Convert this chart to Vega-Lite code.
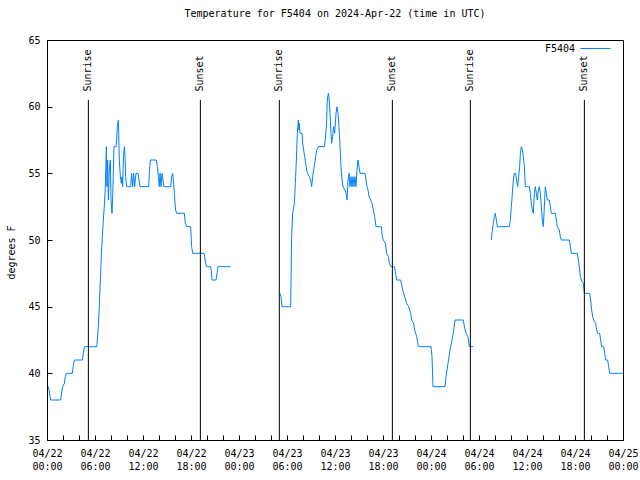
{
  "$schema": "https://vega.github.io/schema/vega-lite/v6.json",
  "width": 576,
  "height": 400,
  "autosize": {"type": "none"},
  "padding": {"left": 47, "top": 40, "right": 17, "bottom": 40},
  "background": "white",
  "config": {
    "font": "DejaVu Sans Mono",
    "view": {"stroke": "black", "strokeWidth": 1},
    "axis": {"grid": false, "domain": false, "labelFont": "DejaVu Sans Mono", "labelFontSize": 10, "labelColor": "black", "tickColor": "black", "titleFont": "DejaVu Sans Mono", "titleFontSize": 10, "titleFontWeight": "normal", "titleColor": "black"}
  },
  "title": {"text": "Temperature for F5404 on 2024-Apr-22 (time in UTC)", "font": "DejaVu Sans Mono", "fontSize": 10, "fontWeight": "normal", "color": "black", "offset": 14, "anchor": "middle"},
  "resolve": {"axis": {"x": "independent", "y": "independent"}},
  "layer": [
    {
      "data": {"values": [
        {"seg":1,"h":0.17,"t":39},{"seg":1,"h":0.29,"t":38.6},{"seg":1,"h":0.46,"t":38},{"seg":1,"h":1.71,"t":38},{"seg":1,"h":1.83,"t":38.6},{"seg":1,"h":1.96,"t":39},{"seg":1,"h":2.17,"t":39.25},{"seg":1,"h":2.29,"t":39.75},{"seg":1,"h":2.42,"t":40},{"seg":1,"h":3.17,"t":40},{"seg":1,"h":3.29,"t":40.6},{"seg":1,"h":3.42,"t":41},{"seg":1,"h":4.42,"t":41},{"seg":1,"h":4.54,"t":41.5},{"seg":1,"h":4.67,"t":42},{"seg":1,"h":6.21,"t":42},{"seg":1,"h":6.29,"t":42.5},{"seg":1,"h":6.42,"t":43.5},{"seg":1,"h":6.54,"t":45},{"seg":1,"h":6.67,"t":47},{"seg":1,"h":6.79,"t":48.8},{"seg":1,"h":6.92,"t":50.3},{"seg":1,"h":7.04,"t":51.5},{"seg":1,"h":7.17,"t":52.6},{"seg":1,"h":7.29,"t":54},{"seg":1,"h":7.375,"t":56},{"seg":1,"h":7.42,"t":57},{"seg":1,"h":7.5,"t":54},{"seg":1,"h":7.58,"t":56},{"seg":1,"h":7.67,"t":53},{"seg":1,"h":7.79,"t":55.25},{"seg":1,"h":7.92,"t":56},{"seg":1,"h":8.0,"t":53},{"seg":1,"h":8.125,"t":52},{"seg":1,"h":8.21,"t":53.25},{"seg":1,"h":8.29,"t":55},{"seg":1,"h":8.375,"t":57},{"seg":1,"h":8.625,"t":57},{"seg":1,"h":8.71,"t":57.5},{"seg":1,"h":8.79,"t":58.5},{"seg":1,"h":8.92,"t":59},{"seg":1,"h":8.96,"t":58},{"seg":1,"h":9.04,"t":56},{"seg":1,"h":9.17,"t":54.75},{"seg":1,"h":9.29,"t":54.25},{"seg":1,"h":9.375,"t":54.75},{"seg":1,"h":9.46,"t":54},{"seg":1,"h":9.54,"t":56},{"seg":1,"h":9.67,"t":57},{"seg":1,"h":9.75,"t":56.25},{"seg":1,"h":9.83,"t":54.75},{"seg":1,"h":9.96,"t":54},{"seg":1,"h":10.46,"t":54},{"seg":1,"h":10.58,"t":55},{"seg":1,"h":10.71,"t":54},{"seg":1,"h":10.83,"t":55},{"seg":1,"h":10.96,"t":54},{"seg":1,"h":11.125,"t":55},{"seg":1,"h":11.375,"t":55},{"seg":1,"h":11.5,"t":54.5},{"seg":1,"h":11.625,"t":54},{"seg":1,"h":12.71,"t":54},{"seg":1,"h":12.79,"t":55},{"seg":1,"h":12.92,"t":56},{"seg":1,"h":13.67,"t":56},{"seg":1,"h":13.79,"t":55.5},{"seg":1,"h":13.92,"t":54.75},{"seg":1,"h":14.04,"t":54},{"seg":1,"h":14.125,"t":55},{"seg":1,"h":14.25,"t":54},{"seg":1,"h":14.375,"t":55},{"seg":1,"h":14.5,"t":54.5},{"seg":1,"h":14.625,"t":54},{"seg":1,"h":15.46,"t":54},{"seg":1,"h":15.58,"t":54.75},{"seg":1,"h":15.71,"t":55},{"seg":1,"h":15.79,"t":54.5},{"seg":1,"h":15.92,"t":53.5},{"seg":1,"h":16.0,"t":52.75},{"seg":1,"h":16.08,"t":52.25},{"seg":1,"h":16.21,"t":52},{"seg":1,"h":17.17,"t":52},{"seg":1,"h":17.29,"t":51.25},{"seg":1,"h":17.46,"t":51},{"seg":1,"h":17.96,"t":51},{"seg":1,"h":18.08,"t":49.5},{"seg":1,"h":18.21,"t":49},{"seg":1,"h":19.625,"t":49},{"seg":1,"h":19.71,"t":48.75},{"seg":1,"h":19.83,"t":48.25},{"seg":1,"h":19.96,"t":48},{"seg":1,"h":20.42,"t":48},{"seg":1,"h":20.54,"t":47.75},{"seg":1,"h":20.625,"t":47},{"seg":1,"h":21.125,"t":47},{"seg":1,"h":21.25,"t":47.5},{"seg":1,"h":21.375,"t":48},{"seg":1,"h":22.92,"t":48},
        {"seg":2,"h":29.125,"t":46},{"seg":2,"h":29.25,"t":45.75},{"seg":2,"h":29.375,"t":45},{"seg":2,"h":30.46,"t":45},{"seg":2,"h":30.5,"t":46.75},{"seg":2,"h":30.58,"t":50.25},{"seg":2,"h":30.71,"t":52},{"seg":2,"h":30.92,"t":52.75},{"seg":2,"h":31.04,"t":54.25},{"seg":2,"h":31.17,"t":56},{"seg":2,"h":31.29,"t":58},{"seg":2,"h":31.42,"t":59},{"seg":2,"h":31.5,"t":58.25},{"seg":2,"h":31.54,"t":58.75},{"seg":2,"h":31.625,"t":58},{"seg":2,"h":31.875,"t":58},{"seg":2,"h":31.96,"t":57.25},{"seg":2,"h":32.08,"t":56.75},{"seg":2,"h":32.21,"t":56.25},{"seg":2,"h":32.33,"t":55.75},{"seg":2,"h":32.46,"t":55.25},{"seg":2,"h":32.58,"t":55},{"seg":2,"h":32.79,"t":54.75},{"seg":2,"h":32.96,"t":54.5},{"seg":2,"h":33.08,"t":54},{"seg":2,"h":33.21,"t":54.75},{"seg":2,"h":33.33,"t":55.25},{"seg":2,"h":33.46,"t":55.75},{"seg":2,"h":33.58,"t":56.25},{"seg":2,"h":33.71,"t":56.75},{"seg":2,"h":33.92,"t":57},{"seg":2,"h":34.67,"t":57},{"seg":2,"h":34.79,"t":57.5},{"seg":2,"h":34.92,"t":58.5},{"seg":2,"h":35.04,"t":60.5},{"seg":2,"h":35.17,"t":61},{"seg":2,"h":35.25,"t":60.75},{"seg":2,"h":35.375,"t":59.5},{"seg":2,"h":35.5,"t":58},{"seg":2,"h":35.58,"t":57.25},{"seg":2,"h":35.71,"t":57.75},{"seg":2,"h":35.83,"t":58.5},{"seg":2,"h":35.96,"t":58},{"seg":2,"h":36.125,"t":59.5},{"seg":2,"h":36.25,"t":60},{"seg":2,"h":36.375,"t":59.5},{"seg":2,"h":36.5,"t":58.5},{"seg":2,"h":36.625,"t":57},{"seg":2,"h":36.75,"t":55.5},{"seg":2,"h":36.875,"t":54.5},{"seg":2,"h":37.0,"t":54},{"seg":2,"h":37.25,"t":53.75},{"seg":2,"h":37.375,"t":53.5},{"seg":2,"h":37.5,"t":53},{"seg":2,"h":37.625,"t":54.5},{"seg":2,"h":37.75,"t":55},{"seg":2,"h":37.875,"t":54},{"seg":2,"h":38.0,"t":54.75},{"seg":2,"h":38.125,"t":54},{"seg":2,"h":38.25,"t":54.75},{"seg":2,"h":38.375,"t":54},{"seg":2,"h":38.5,"t":54.75},{"seg":2,"h":38.625,"t":54},{"seg":2,"h":38.75,"t":55.25},{"seg":2,"h":38.875,"t":56},{"seg":2,"h":39.0,"t":55.5},{"seg":2,"h":39.125,"t":55},{"seg":2,"h":39.75,"t":55},{"seg":2,"h":39.875,"t":54.5},{"seg":2,"h":40.0,"t":54},{"seg":2,"h":40.125,"t":53.75},{"seg":2,"h":40.25,"t":53.25},{"seg":2,"h":40.46,"t":53},{"seg":2,"h":40.625,"t":52.75},{"seg":2,"h":40.79,"t":52.25},{"seg":2,"h":40.96,"t":51.75},{"seg":2,"h":41.125,"t":51},{"seg":2,"h":41.79,"t":51},{"seg":2,"h":41.92,"t":50.25},{"seg":2,"h":42.04,"t":50},{"seg":2,"h":42.29,"t":49.75},{"seg":2,"h":42.46,"t":49},{"seg":2,"h":42.67,"t":48.75},{"seg":2,"h":42.79,"t":48.25},{"seg":2,"h":43.0,"t":48},{"seg":2,"h":43.42,"t":48},{"seg":2,"h":43.58,"t":47.5},{"seg":2,"h":43.71,"t":47},{"seg":2,"h":44.21,"t":47},{"seg":2,"h":44.46,"t":46.25},{"seg":2,"h":44.71,"t":45.75},{"seg":2,"h":44.96,"t":45.25},{"seg":2,"h":45.21,"t":45},{"seg":2,"h":45.46,"t":44.5},{"seg":2,"h":45.58,"t":44},{"seg":2,"h":45.83,"t":43.75},{"seg":2,"h":45.96,"t":43.25},{"seg":2,"h":46.21,"t":42.75},{"seg":2,"h":46.42,"t":42},{"seg":2,"h":48.0,"t":42},{"seg":2,"h":48.125,"t":41.25},{"seg":2,"h":48.25,"t":39},{"seg":2,"h":49.75,"t":39},{"seg":2,"h":49.875,"t":39.75},{"seg":2,"h":50.125,"t":40.75},{"seg":2,"h":50.375,"t":41.75},{"seg":2,"h":50.625,"t":42.5},{"seg":2,"h":50.79,"t":43},{"seg":2,"h":51.0,"t":44},{"seg":2,"h":52.04,"t":44},{"seg":2,"h":52.17,"t":43.5},{"seg":2,"h":52.375,"t":43},{"seg":2,"h":52.625,"t":42.75},{"seg":2,"h":52.79,"t":42},{"seg":2,"h":53.29,"t":42},
        {"seg":3,"h":55.54,"t":50},{"seg":3,"h":55.67,"t":50.75},{"seg":3,"h":55.79,"t":51.25},{"seg":3,"h":55.92,"t":51.75},{"seg":3,"h":56.04,"t":52},{"seg":3,"h":56.17,"t":51.5},{"seg":3,"h":56.29,"t":51},{"seg":3,"h":57.79,"t":51},{"seg":3,"h":57.92,"t":51.5},{"seg":3,"h":58.04,"t":52.5},{"seg":3,"h":58.17,"t":53.5},{"seg":3,"h":58.29,"t":54.5},{"seg":3,"h":58.42,"t":55},{"seg":3,"h":58.58,"t":55},{"seg":3,"h":58.71,"t":54.4},{"seg":3,"h":58.83,"t":54},{"seg":3,"h":58.96,"t":54.75},{"seg":3,"h":59.08,"t":55.5},{"seg":3,"h":59.17,"t":56.5},{"seg":3,"h":59.29,"t":57},{"seg":3,"h":59.42,"t":56.75},{"seg":3,"h":59.54,"t":56.25},{"seg":3,"h":59.67,"t":55.5},{"seg":3,"h":59.79,"t":54},{"seg":3,"h":60.29,"t":54},{"seg":3,"h":60.42,"t":53.5},{"seg":3,"h":60.54,"t":52.75},{"seg":3,"h":60.67,"t":52.25},{"seg":3,"h":60.79,"t":52},{"seg":3,"h":60.92,"t":53.5},{"seg":3,"h":61.04,"t":54},{"seg":3,"h":61.17,"t":53.5},{"seg":3,"h":61.29,"t":53},{"seg":3,"h":61.42,"t":53.75},{"seg":3,"h":61.54,"t":54},{"seg":3,"h":61.67,"t":53.5},{"seg":3,"h":61.79,"t":52.5},{"seg":3,"h":61.92,"t":51.5},{"seg":3,"h":62.04,"t":51},{"seg":3,"h":62.17,"t":52.5},{"seg":3,"h":62.29,"t":54},{"seg":3,"h":62.42,"t":53.5},{"seg":3,"h":62.54,"t":53},{"seg":3,"h":62.79,"t":53},{"seg":3,"h":62.92,"t":52.5},{"seg":3,"h":63.04,"t":52},{"seg":3,"h":63.54,"t":52},{"seg":3,"h":63.67,"t":51.5},{"seg":3,"h":63.79,"t":51},{"seg":3,"h":64.04,"t":50.75},{"seg":3,"h":64.17,"t":50.25},{"seg":3,"h":64.29,"t":50},{"seg":3,"h":65.29,"t":50},{"seg":3,"h":65.42,"t":49.5},{"seg":3,"h":65.54,"t":49},{"seg":3,"h":66.29,"t":49},{"seg":3,"h":66.42,"t":48.5},{"seg":3,"h":66.54,"t":48},{"seg":3,"h":66.67,"t":47.25},{"seg":3,"h":66.79,"t":47},{"seg":3,"h":67.04,"t":46.75},{"seg":3,"h":67.17,"t":46},{"seg":3,"h":67.83,"t":46},{"seg":3,"h":67.96,"t":45.5},{"seg":3,"h":68.08,"t":44.75},{"seg":3,"h":68.21,"t":44.25},{"seg":3,"h":68.33,"t":44},{"seg":3,"h":68.58,"t":43.75},{"seg":3,"h":68.71,"t":43.25},{"seg":3,"h":68.83,"t":43},{"seg":3,"h":69.08,"t":43},{"seg":3,"h":69.21,"t":42.5},{"seg":3,"h":69.33,"t":42},{"seg":3,"h":69.58,"t":42},{"seg":3,"h":69.71,"t":41.5},{"seg":3,"h":69.83,"t":41},{"seg":3,"h":70.08,"t":41},{"seg":3,"h":70.21,"t":40.5},{"seg":3,"h":70.33,"t":40},{"seg":3,"h":71.83,"t":40},{"seg":3,"h":72.0,"t":40}
      ]},
      "mark": {"type": "line", "strokeWidth": 1, "interpolate": "linear", "clip": true},
      "encoding": {
        "x": {"field": "h", "type": "quantitative", "scale": {"domain": [0, 72], "nice": false, "zero": false},
          "axis": {"orient": "bottom", "title": null, "values": [0,2,4,6,8,10,12,14,16,18,20,22,24,26,28,30,32,34,36,38,40,42,44,46,48,50,52,54,56,58,60,62,64,66,68,70,72], "tickSize": -5, "labelPadding": 13, "labelOverlap": false, "labelFlush": false, "labelBound": false, "labelLineHeight": 13, "labelBaseline": "top",
            "labelExpr": "datum.value % 6 == 0 ? ['04/' + (22 + floor(datum.value / 24)), (datum.value % 24 < 10 ? '0' : '') + (datum.value % 24) + ':00'] : ''"}},
        "y": {"field": "t", "type": "quantitative", "scale": {"domain": [35, 65], "nice": false, "zero": false},
          "axis": {"orient": "left", "title": "degrees F", "values": [35,40,45,50,55,60,65], "tickSize": -5, "labelPadding": 12, "titleX": -36, "titleY": 212, "titleAngle": 270, "titleAlign": "center", "titleBaseline": "middle", "labelOverlap": false, "labelFlush": false, "labelBound": false}},
        "detail": {"field": "seg", "type": "nominal"},
        "color": {"datum": "F5404", "type": "nominal", "scale": {"range": ["#0080ff"]},
          "legend": {"title": null, "orient": "none", "legendX": 533, "legendY": -7, "symbolType": "stroke", "symbolSize": 900, "symbolStrokeWidth": 1, "symbolStrokeColor": "#0080ff", "labelAlign": "right", "labelOffset": -36, "labelFont": "DejaVu Sans Mono", "labelFontSize": 10, "labelColor": "black"}}
      }
    },
    {
      "data": {"values": [
        {"h": 5.17, "event": "Sunrise"}, {"h": 19.17, "event": "Sunset"},
        {"h": 29.04, "event": "Sunrise"}, {"h": 43.17, "event": "Sunset"},
        {"h": 52.92, "event": "Sunrise"}, {"h": 67.17, "event": "Sunset"}
      ]},
      "layer": [
        {
          "mark": {"type": "rule", "color": "black", "strokeWidth": 1},
          "encoding": {
            "x": {"field": "h", "type": "quantitative", "axis": {"orient": "top", "title": null, "labels": false, "values": [0,2,4,6,8,10,12,14,16,18,20,22,24,26,28,30,32,34,36,38,40,42,44,46,48,50,52,54,56,58,60,62,64,66,68,70,72], "tickSize": -5}},
            "y": {"datum": 60.5, "type": "quantitative", "axis": {"orient": "right", "title": null, "labels": false, "values": [35,40,45,50,55,60,65], "tickSize": -5}},
            "y2": {"datum": 35}
          }
        },
        {
          "mark": {"type": "text", "angle": 270, "align": "left", "baseline": "middle", "font": "DejaVu Sans Mono", "fontSize": 10, "color": "black"},
          "encoding": {
            "x": {"field": "h", "type": "quantitative", "axis": null},
            "y": {"datum": 61.13, "type": "quantitative", "axis": null},
            "text": {"field": "event"}
          }
        }
      ]
    }
  ]
}
